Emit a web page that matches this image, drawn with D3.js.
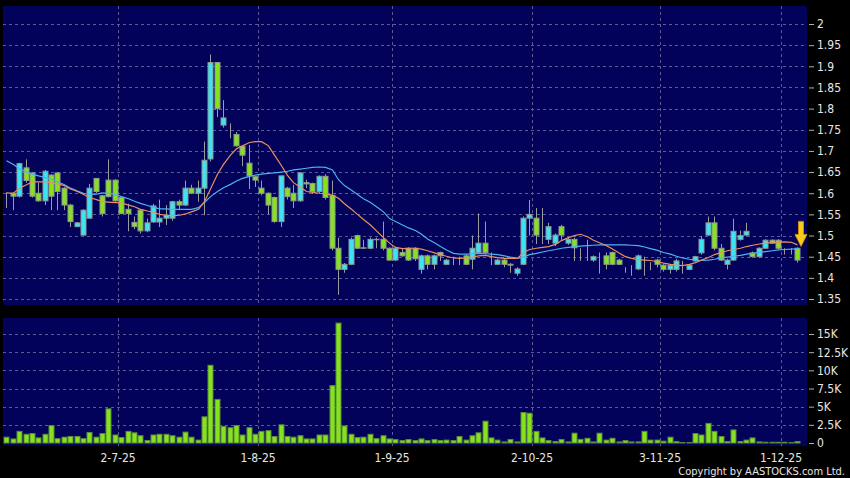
<!DOCTYPE html>
<html><head><meta charset="utf-8">
<script src="https://cdn.jsdelivr.net/npm/d3@7"></script>
<style>html,body{margin:0;padding:0;background:#000;}svg{display:block;}</style>
</head><body><svg id="c" width="850" height="478"></svg>
<script>
const dates = [
"5-6-25","6-6-25","9-6-25","10-6-25","11-6-25","12-6-25","13-6-25","16-6-25","17-6-25","18-6-25","19-6-25","20-6-25","23-6-25","24-6-25","25-6-25","26-6-25","27-6-25","30-6-25",
"2-7-25","3-7-25","4-7-25","7-7-25","8-7-25","9-7-25","10-7-25","11-7-25","14-7-25","15-7-25","16-7-25","17-7-25","18-7-25","21-7-25","22-7-25","23-7-25","24-7-25","25-7-25","28-7-25","29-7-25","30-7-25","31-7-25",
"1-8-25","4-8-25","5-8-25","6-8-25","7-8-25","8-8-25","11-8-25","12-8-25","13-8-25","14-8-25","15-8-25","18-8-25","19-8-25","20-8-25","21-8-25","22-8-25","25-8-25","26-8-25","27-8-25","28-8-25","29-8-25",
"1-9-25","2-9-25","3-9-25","4-9-25","5-9-25","8-9-25","9-9-25","10-9-25","11-9-25","12-9-25","15-9-25","16-9-25","17-9-25","18-9-25","19-9-25","22-9-25","23-9-25","24-9-25","25-9-25","26-9-25","29-9-25","30-9-25",
"2-10-25","3-10-25","6-10-25","8-10-25","9-10-25","10-10-25","13-10-25","14-10-25","15-10-25","16-10-25","17-10-25","20-10-25","21-10-25","22-10-25","23-10-25","24-10-25","27-10-25","28-10-25","30-10-25","31-10-25",
"3-11-25","4-11-25","5-11-25","6-11-25","7-11-25","10-11-25","11-11-25","12-11-25","13-11-25","17-11-25","18-11-25","19-11-25","20-11-25","21-11-25","24-11-25","25-11-25","26-11-25","27-11-25","28-11-25",
"1-12-25","2-12-25","3-12-25"];

const openP = [
1.600,1.600,1.593,1.660,1.648,1.600,1.582,1.643,1.648,1.612,
1.572,1.521,1.501,1.541,1.635,1.594,1.631,1.631,1.590,1.562,
1.531,1.560,1.511,1.532,1.532,1.541,1.541,1.580,1.572,1.612,
1.600,1.612,1.681,1.909,1.761,1.752,1.739,1.711,1.671,1.639,
1.612,1.600,1.590,1.533,1.612,1.600,1.582,1.622,1.623,1.604,
1.640,1.595,1.470,1.420,1.432,1.500,1.471,1.470,1.490,1.491,
1.470,1.442,1.460,1.470,1.470,1.420,1.452,1.432,1.460,1.432,
1.443,1.443,1.452,1.444,1.460,1.482,1.452,1.432,1.442,1.430,
1.411,1.432,1.541,1.541,1.500,1.491,1.482,1.521,1.482,1.491,
1.462,1.460,1.442,1.450,1.452,1.460,1.442,1.421,1.421,1.421,
1.442,1.432,1.442,1.430,1.420,1.420,1.430,1.420,1.440,1.459,
1.501,1.530,1.470,1.432,1.442,1.491,1.501,1.459,1.450,1.470,
1.489,1.489,1.467,1.467,1.470];
const highP = [
1.602,1.602,1.672,1.680,1.650,1.625,1.655,1.645,1.650,1.614,
1.575,1.532,1.562,1.622,1.636,1.596,1.680,1.633,1.592,1.575,
1.545,1.562,1.540,1.575,1.585,1.572,1.582,1.585,1.630,1.620,
1.630,1.722,1.928,1.910,1.820,1.765,1.745,1.712,1.714,1.640,
1.630,1.602,1.592,1.642,1.615,1.620,1.650,1.632,1.625,1.642,
1.645,1.630,1.495,1.435,1.495,1.502,1.490,1.495,1.495,1.533,
1.472,1.472,1.470,1.472,1.472,1.455,1.455,1.455,1.462,1.445,
1.450,1.450,1.455,1.500,1.552,1.533,1.460,1.445,1.445,1.435,
1.425,1.545,1.584,1.565,1.565,1.530,1.505,1.525,1.495,1.495,
1.470,1.490,1.453,1.460,1.460,1.462,1.445,1.425,1.430,1.455,
1.450,1.437,1.445,1.432,1.432,1.445,1.440,1.432,1.452,1.499,
1.545,1.545,1.480,1.445,1.540,1.512,1.530,1.462,1.472,1.491,
1.491,1.491,1.470,1.470,1.472];
const lowP = [
1.565,1.560,1.590,1.625,1.590,1.580,1.572,1.560,1.560,1.560,
1.520,1.520,1.500,1.540,1.600,1.545,1.590,1.580,1.550,1.510,
1.515,1.505,1.508,1.530,1.520,1.525,1.535,1.560,1.570,1.598,
1.580,1.548,1.675,1.780,1.755,1.730,1.710,1.664,1.610,1.615,
1.595,1.550,1.530,1.520,1.585,1.565,1.580,1.612,1.598,1.600,
1.585,1.465,1.360,1.412,1.430,1.468,1.468,1.468,1.470,1.465,
1.440,1.440,1.450,1.440,1.440,1.410,1.420,1.420,1.440,1.430,
1.430,1.430,1.430,1.420,1.458,1.455,1.430,1.430,1.425,1.412,
1.405,1.430,1.500,1.480,1.480,1.480,1.475,1.490,1.478,1.440,
1.440,1.440,1.438,1.410,1.420,1.430,1.430,1.412,1.405,1.418,
1.405,1.418,1.425,1.415,1.410,1.415,1.410,1.418,1.438,1.455,
1.500,1.465,1.440,1.420,1.440,1.488,1.498,1.448,1.448,1.468,
1.480,1.468,1.455,1.455,1.436];
const closeP = [
1.600,1.593,1.670,1.630,1.593,1.582,1.652,1.593,1.604,1.572,
1.533,1.530,1.560,1.612,1.604,1.552,1.592,1.582,1.552,1.552,
1.521,1.511,1.530,1.570,1.541,1.548,1.580,1.572,1.612,1.600,
1.612,1.678,1.909,1.800,1.778,1.752,1.712,1.690,1.641,1.631,
1.600,1.572,1.533,1.641,1.592,1.582,1.648,1.625,1.604,1.640,
1.590,1.470,1.420,1.432,1.491,1.470,1.470,1.491,1.491,1.470,
1.442,1.470,1.452,1.442,1.445,1.452,1.432,1.452,1.452,1.442,
1.443,1.443,1.432,1.470,1.482,1.460,1.452,1.442,1.432,1.432,
1.421,1.541,1.550,1.501,1.500,1.521,1.501,1.501,1.491,1.471,
1.462,1.460,1.450,1.450,1.432,1.432,1.432,1.421,1.421,1.452,
1.442,1.432,1.432,1.420,1.430,1.440,1.430,1.430,1.450,1.491,
1.530,1.470,1.442,1.442,1.510,1.500,1.510,1.450,1.470,1.489,
1.482,1.470,1.467,1.467,1.442];
const volume = [
800,560,1600,1200,1300,700,1200,2400,600,800,
900,900,600,1450,800,1300,4700,1100,750,1600,
1400,1000,350,1100,1200,1200,1000,800,1500,800,
400,3600,10700,6000,2300,2100,2400,1100,2100,1200,
1600,1700,900,2500,900,800,1000,560,560,1100,
1100,7900,16500,2350,1200,750,800,1200,600,1000,
560,470,330,470,330,560,330,470,330,400,
330,900,400,1000,1400,3000,700,400,150,470,
150,4200,4100,1600,700,330,200,470,150,1350,
500,650,150,1350,400,650,150,330,150,150,
1600,400,400,250,800,200,50,50,1300,1100,
2700,1600,900,200,1800,200,400,700,150,100,
100,100,100,50,200];
const maShort = [
1.601,1.600,1.612,1.620,1.627,1.627,1.627,1.625,1.622,1.618,
1.610,1.604,1.597,1.590,1.585,1.580,1.579,1.578,1.577,1.572,
1.568,1.562,1.558,1.555,1.550,1.548,1.547,1.548,1.551,1.556,
1.562,1.580,1.610,1.645,1.668,1.690,1.705,1.712,1.720,1.722,
1.722,1.712,1.690,1.665,1.642,1.625,1.614,1.604,1.602,1.600,
1.599,1.595,1.588,1.575,1.562,1.550,1.538,1.525,1.511,1.495,
1.482,1.472,1.469,1.470,1.470,1.468,1.464,1.459,1.455,1.451,
1.447,1.446,1.447,1.449,1.452,1.453,1.450,1.448,1.446,1.446,
1.446,1.460,1.467,1.470,1.472,1.474,1.479,1.488,1.495,1.500,
1.503,1.497,1.489,1.483,1.476,1.468,1.458,1.450,1.446,1.443,
1.442,1.441,1.438,1.435,1.432,1.430,1.429,1.432,1.436,1.442,
1.448,1.455,1.460,1.464,1.467,1.470,1.474,1.477,1.480,1.482,
1.483,1.484,1.485,1.484,1.478];
const maLong = [
1.677,1.668,1.658,1.650,1.645,1.641,1.637,1.633,1.627,1.620,
1.612,1.605,1.600,1.597,1.598,1.601,1.600,1.597,1.592,1.587,
1.581,1.576,1.571,1.567,1.563,1.563,1.562,1.562,1.562,1.562,
1.566,1.578,1.592,1.604,1.613,1.621,1.629,1.635,1.640,1.643,
1.645,1.647,1.648,1.650,1.652,1.655,1.657,1.659,1.661,1.662,
1.661,1.655,1.632,1.618,1.607,1.597,1.587,1.578,1.568,1.556,
1.540,1.533,1.525,1.518,1.512,1.503,1.492,1.483,1.474,1.466,
1.458,1.456,1.456,1.457,1.458,1.457,1.456,1.455,1.452,1.449,
1.446,1.449,1.455,1.458,1.461,1.464,1.467,1.470,1.472,1.474,
1.475,1.476,1.477,1.478,1.478,1.478,1.478,1.478,1.477,1.476,
1.473,1.469,1.465,1.460,1.456,1.451,1.447,1.444,1.442,1.441,
1.442,1.444,1.447,1.449,1.451,1.453,1.456,1.458,1.460,1.462,
1.464,1.466,1.467,1.468,1.469];
const priceTicks = [2,1.95,1.9,1.85,1.8,1.75,1.7,1.65,1.6,1.55,1.5,1.45,1.4,1.35];
const volTicks = [0,2500,5000,7500,10000,12500,15000];
const xTickDates = ["2-7-25","1-8-25","1-9-25","2-10-25","3-11-25","1-12-25"];

const svg = d3.select("#c");
const FONT = "'DejaVu Sans Condensed','Liberation Sans Narrow','DejaVu Sans',sans-serif";
const NAVY = "#02025a", GRID = "#5a5a96";
const UP = "#3de3f2", DOWN = "#84e21e";

const P = {l:3, r:807, t:6, b:305};
const V = {l:3, r:807, t:318, b:446};

const x = d3.scaleBand().domain(dates).range([3.3, 800.2]).padding(0);
const cx = d => Math.round(x(d) + x.bandwidth()/2);
const y = d3.scaleLinear().domain([1.35, 2]).range([299, 24]);
const yv = d3.scaleLinear().domain([0, 15000]).range([443, 334]);

svg.append("rect").attr("width",850).attr("height",478).attr("fill","#000");
svg.append("rect").attr("x",P.l).attr("y",P.t).attr("width",P.r-P.l).attr("height",P.b-P.t).attr("fill",NAVY);
svg.append("rect").attr("x",V.l).attr("y",V.t).attr("width",V.r-V.l).attr("height",V.b-V.t).attr("fill",NAVY);

// gridlines
const g = svg.append("g").attr("stroke",GRID).attr("stroke-width",1).attr("stroke-dasharray","3,3").attr("fill","none");
priceTicks.forEach(t => g.append("line").attr("x1",P.l).attr("x2",P.r).attr("y1",Math.round(y(t))+0.5).attr("y2",Math.round(y(t))+0.5));
volTicks.slice(1).forEach(t => g.append("line").attr("x1",V.l).attr("x2",V.r).attr("y1",Math.round(yv(t))+0.5).attr("y2",Math.round(yv(t))+0.5));
xTickDates.forEach(d => {
  const xx = Math.round(x(d)) + 0.5;
  g.append("line").attr("x1",xx).attr("x2",xx).attr("y1",P.t).attr("y2",P.b);
  g.append("line").attr("x1",xx).attr("x2",xx).attr("y1",V.t).attr("y2",V.b);
});

// axes
const ax = svg.append("g").attr("transform","translate(809,0)")
  .call(d3.axisRight(y).tickValues(priceTicks).tickSize(5).tickPadding(3).tickFormat(d3.format("")));
const axv = svg.append("g").attr("transform","translate(809,0)")
  .call(d3.axisRight(yv).tickValues(volTicks).tickSize(5).tickPadding(3).tickFormat(d => d===0 ? "0" : (d/1000)+"K"));
[ax, axv].forEach(a => {
  a.select(".domain").remove();
  a.selectAll(".tick line").attr("stroke","#b0b0b0");
  a.selectAll(".tick text").attr("fill","#e6e6e6").attr("font-family",FONT).attr("font-size",12);
});

// x labels
const xa = svg.append("g").attr("transform","translate(0,449)")
  .call(d3.axisBottom(x).tickValues(xTickDates).tickSize(0).tickPadding(4));
xa.select(".domain").remove();
xa.selectAll(".tick").attr("transform", d => `translate(${Math.round(x(d))},0)`);
xa.selectAll(".tick text").attr("fill","#e6e6e6").attr("font-family",FONT).attr("font-size",12);

// candles
const idx = d3.range(dates.length);
const cg = svg.append("g");
cg.selectAll("line.w").data(idx).join("line")
  .attr("x1", i => cx(dates[i]) + 0.5).attr("x2", i => cx(dates[i]) + 0.5)
  .attr("y1", i => y(highP[i])).attr("y2", i => y(lowP[i]))
  .attr("stroke","#9c9c9c").attr("stroke-width",1);
cg.selectAll("rect.b").data(idx).join("rect")
  .attr("x", i => cx(dates[i]) - 2)
  .attr("y", i => y(Math.max(openP[i], closeP[i])))
  .attr("width", 5)
  .attr("height", i => Math.max(0, Math.abs(y(openP[i]) - y(closeP[i]))))
  .attr("fill", i => closeP[i] >= openP[i] ? UP : DOWN)
  .attr("stroke","#8e9890").attr("stroke-width",1);

// moving averages
const line = arr => d3.line().x((v,i) => cx(dates[i]) + 0.5).y(v => y(v))(arr);
svg.append("path").attr("d", line(maLong)).attr("fill","none").attr("stroke","#4db2ee").attr("stroke-width",1.2);
svg.append("path").attr("d", line(maShort)).attr("fill","none").attr("stroke","#e9905e").attr("stroke-width",1.2);

// volume
svg.append("g").selectAll("rect").data(idx).join("rect")
  .attr("x", i => cx(dates[i]) - 2)
  .attr("y", i => yv(volume[i]))
  .attr("width", 5)
  .attr("height", i => yv(0) - yv(volume[i]))
  .attr("fill", DOWN).attr("stroke","#5d8a36").attr("stroke-width",1);

// arrow over last candle
const li = dates.length - 1;
const ax0 = cx(dates[li]) + 4, tipY = y(highP[li]) - 1;
svg.append("path")
  .attr("d", `M${ax0-2.5},${tipY-25} h5 v13 h3.5 l-6,12 l-6,-12 h3.5 z`)
  .attr("fill","#f7cc1a").attr("stroke","#d99400").attr("stroke-width",0.8);

// copyright
svg.append("text").attr("x",845).attr("y",475).attr("text-anchor","end")
  .attr("fill","#e6e6e6").attr("font-family",FONT).attr("font-size",11)
  .text("Copyright by AASTOCKS.com Ltd.");
</script></body></html>
